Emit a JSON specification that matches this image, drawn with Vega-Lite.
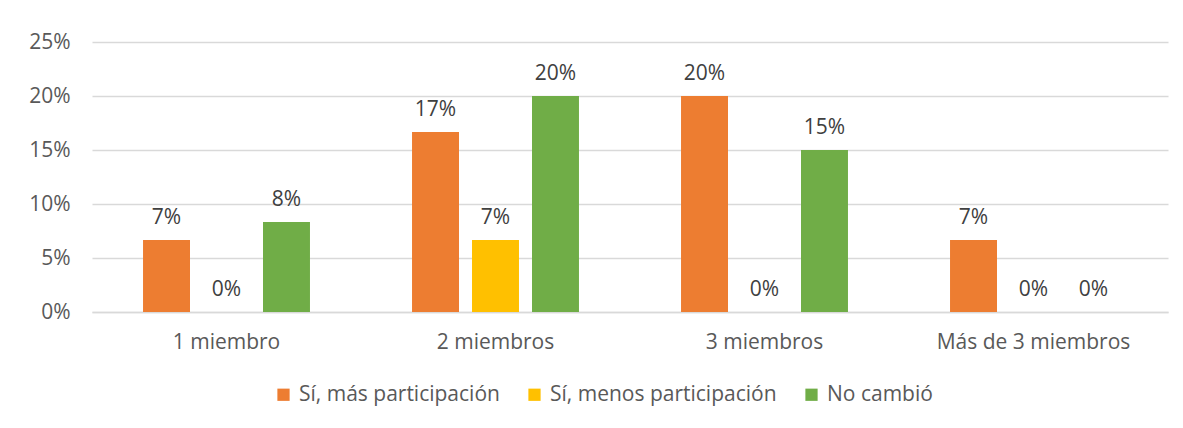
{
  "$schema": "https://vega.github.io/schema/vega-lite/v6.json",
  "width": 1076,
  "height": 270,
  "autosize": "none",
  "padding": {"left": 92, "top": 42, "right": 15, "bottom": 116},
  "background": "white",
  "config": {
    "view": {"stroke": null},
    "font": "Open Sans"
  },
  "data": {
    "values": [
      {"grupo": "1 miembro", "serie": "Sí, más participación", "valor": 0.0667},
      {"grupo": "1 miembro", "serie": "Sí, menos participación", "valor": 0},
      {"grupo": "1 miembro", "serie": "No cambió", "valor": 0.0833},
      {"grupo": "2 miembros", "serie": "Sí, más participación", "valor": 0.1667},
      {"grupo": "2 miembros", "serie": "Sí, menos participación", "valor": 0.0667},
      {"grupo": "2 miembros", "serie": "No cambió", "valor": 0.20},
      {"grupo": "3 miembros", "serie": "Sí, más participación", "valor": 0.20},
      {"grupo": "3 miembros", "serie": "Sí, menos participación", "valor": 0},
      {"grupo": "3 miembros", "serie": "No cambió", "valor": 0.15},
      {"grupo": "Más de 3 miembros", "serie": "Sí, más participación", "valor": 0.0667},
      {"grupo": "Más de 3 miembros", "serie": "Sí, menos participación", "valor": 0},
      {"grupo": "Más de 3 miembros", "serie": "No cambió", "valor": 0}
    ]
  },
  "encoding": {
    "x": {
      "field": "grupo", "type": "nominal", "sort": null,
      "scale": {"paddingInner": 0.331, "paddingOuter": 0.1655},
      "axis": {
        "title": null, "labelAngle": 0, "ticks": false, "domainColor": "#d9d9d9", "domainWidth": 1.5,
        "labelFontSize": 21, "labelColor": "#595959", "labelPadding": 19, "labelFont": "Open Sans", "labelLimit": 400
      }
    },
    "xOffset": {
      "field": "serie", "type": "nominal",
      "sort": ["Sí, más participación", "Sí, menos participación", "No cambió"],
      "scale": {"paddingInner": 0.217, "paddingOuter": 0.1085}
    },
    "y": {
      "field": "valor", "type": "quantitative",
      "scale": {"domain": [0, 0.25], "nice": false},
      "axis": {
        "title": null, "format": ".0%", "values": [0, 0.05, 0.1, 0.15, 0.2, 0.25], "labelOverlap": false,
        "domain": false, "ticks": false, "gridColor": "#d9d9d9", "gridWidth": 1.5,
        "labelFontSize": 21, "labelColor": "#595959", "labelPadding": 22, "labelFont": "Open Sans"
      }
    }
  },
  "layer": [
    {
      "mark": {"type": "bar"},
      "encoding": {
        "color": {
          "field": "serie", "type": "nominal",
          "sort": ["Sí, más participación", "Sí, menos participación", "No cambió"],
          "scale": {
            "domain": ["Sí, más participación", "Sí, menos participación", "No cambió"],
            "range": ["#ed7d31", "#ffc000", "#70ad47"]
          },
          "legend": {
            "title": null, "orient": "none", "direction": "horizontal",
            "legendX": 181, "legendY": 342,
            "symbolType": "square", "symbolSize": 150, "symbolStrokeWidth": 0,
            "labelFontSize": 21, "labelColor": "#595959", "labelFont": "Open Sans", "labelLimit": 400,
            "columnPadding": 24, "labelOffset": 5
          }
        }
      }
    },
    {
      "mark": {"type": "text", "baseline": "bottom", "dy": -12, "fontSize": 21, "color": "#404040", "font": "Open Sans"},
      "encoding": {
        "text": {"field": "valor", "type": "quantitative", "format": ".0%"}
      }
    }
  ]
}
